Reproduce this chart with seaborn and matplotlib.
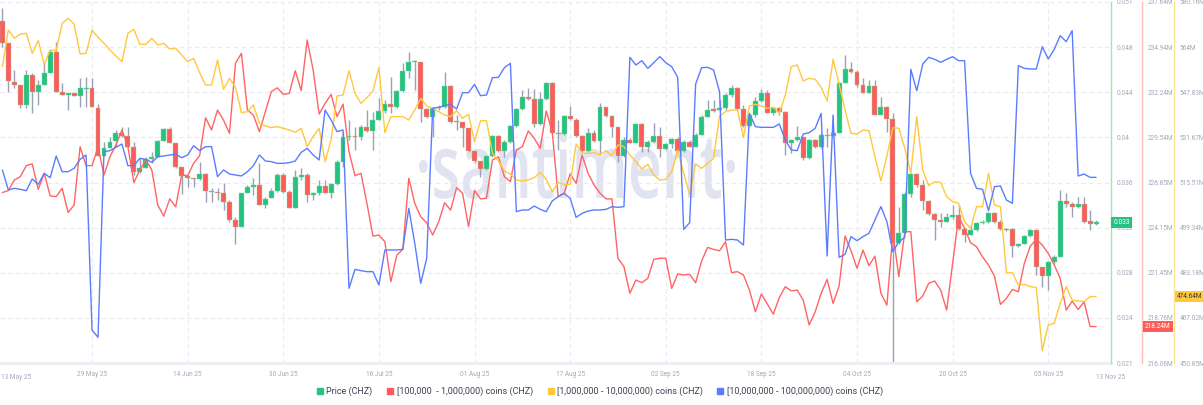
import numpy as np
import pandas as pd
import matplotlib
matplotlib.use("Agg")
import matplotlib.pyplot as plt
import matplotlib.dates as mdates
import matplotlib.transforms as mtransforms
from matplotlib.ticker import NullFormatter
from matplotlib.lines import Line2D
from matplotlib.textpath import TextPath
from matplotlib.patches import PathPatch
from matplotlib.font_manager import FontProperties
import seaborn as sns

sns.set_theme(style="white")
plt.rcParams['font.family'] = ['Roboto', 'DejaVu Sans']

dates = pd.date_range("2025-05-14", "2025-11-13", freq="D")

price_open = [
    0.04980, 0.04786, 0.04458, 0.04429, 0.04258, 0.04515, 0.04372, 0.04429, 0.04535, 0.04715,
    0.04367, 0.04344, 0.04358, 0.04338, 0.04398, 0.04401, 0.04235, 0.03825, 0.03893, 0.03953,
    0.04022, 0.03993, 0.03902, 0.03683, 0.03717, 0.03797, 0.03816, 0.03948, 0.04050, 0.03930,
    0.03731, 0.03651, 0.03631, 0.03623, 0.03668, 0.03526, 0.03517, 0.03509, 0.03431, 0.03274,
    0.03217, 0.03509, 0.03560, 0.03574, 0.03402, 0.03460, 0.03526, 0.03660, 0.03517, 0.03382,
    0.03645, 0.03660, 0.03488, 0.03503, 0.03566, 0.03509, 0.03580, 0.03774, 0.03987, 0.03993,
    0.03982, 0.04073, 0.04039, 0.04130, 0.04210, 0.04264, 0.04244, 0.04378, 0.04552, 0.04635,
    0.04624, 0.04221, 0.04153, 0.04230, 0.04244, 0.04421, 0.04110, 0.04116, 0.04059, 0.03868,
    0.03782, 0.03708, 0.03822, 0.03993, 0.03868, 0.03939, 0.04079, 0.04221, 0.04329, 0.04307,
    0.04096, 0.04310, 0.04443, 0.04022, 0.04007, 0.04167, 0.04130, 0.03993, 0.03868, 0.04022,
    0.03950, 0.04244, 0.04167, 0.04073, 0.03825, 0.03959, 0.03936, 0.04093, 0.03902, 0.03945,
    0.03993, 0.03879, 0.03925, 0.03965, 0.03868, 0.03945, 0.03902, 0.04001, 0.04158, 0.04227,
    0.04215, 0.04233, 0.04344, 0.04406, 0.04224, 0.04079, 0.04173, 0.04292, 0.04364, 0.04187,
    0.04235, 0.04201, 0.03930, 0.03959, 0.03982, 0.03802, 0.03959, 0.03896, 0.03999, 0.03996,
    0.04022, 0.04449, 0.04563, 0.04543, 0.04429, 0.04364, 0.04421, 0.04173, 0.04244, 0.04139,
    0.03080, 0.03160, 0.03494, 0.03665, 0.03574, 0.03439, 0.03325, 0.03274, 0.03260, 0.03297,
    0.03317, 0.03194, 0.03151, 0.03189, 0.03251, 0.03260, 0.03337, 0.03260, 0.03189, 0.03194,
    0.03054, 0.03074, 0.03140, 0.03189, 0.02869, 0.02798, 0.02918, 0.02960, 0.03439, 0.03416,
    0.03388, 0.03416, 0.03265, 0.03240,
]
price_high = [
    0.05086, 0.04786, 0.04557, 0.04429, 0.04557, 0.04529, 0.04472, 0.04615, 0.04729, 0.04801,
    0.04449, 0.04358, 0.04358, 0.04486, 0.04495, 0.04486, 0.04267, 0.03945, 0.03987, 0.04044,
    0.04073, 0.04073, 0.03945, 0.03802, 0.03816, 0.03859, 0.03959, 0.04059, 0.04073, 0.03930,
    0.03731, 0.03660, 0.03631, 0.03774, 0.03674, 0.03546, 0.03546, 0.03588, 0.03445, 0.03302,
    0.03509, 0.03574, 0.03631, 0.03759, 0.03474, 0.03546, 0.03674, 0.03674, 0.03531, 0.03702,
    0.03717, 0.03674, 0.03517, 0.03617, 0.03617, 0.03594, 0.03788, 0.04030, 0.04130, 0.04073,
    0.04087, 0.04215, 0.04201, 0.04315, 0.04301, 0.04500, 0.04386, 0.04615, 0.04715, 0.04644,
    0.04624, 0.04230, 0.04244, 0.04258, 0.04543, 0.04429, 0.04173, 0.04116, 0.04059, 0.03868,
    0.03782, 0.03830, 0.04001, 0.04001, 0.03959, 0.04087, 0.04230, 0.04386, 0.04401, 0.04392,
    0.04372, 0.04458, 0.04458, 0.04130, 0.04173, 0.04250, 0.04144, 0.04001, 0.04059, 0.04044,
    0.04272, 0.04244, 0.04173, 0.04073, 0.03987, 0.03973, 0.04101, 0.04101, 0.03959, 0.04101,
    0.04073, 0.03930, 0.03973, 0.03987, 0.03959, 0.03959, 0.04016, 0.04173, 0.04301, 0.04301,
    0.04301, 0.04358, 0.04429, 0.04409, 0.04258, 0.04187, 0.04329, 0.04392, 0.04386, 0.04244,
    0.04244, 0.04207, 0.03965, 0.04079, 0.03987, 0.03965, 0.03965, 0.04016, 0.04059, 0.04030,
    0.04458, 0.04686, 0.04629, 0.04557, 0.04486, 0.04472, 0.04472, 0.04329, 0.04250, 0.04187,
    0.03388, 0.03517, 0.03674, 0.03674, 0.03617, 0.03445, 0.03331, 0.03331, 0.03331, 0.03402,
    0.03402, 0.03203, 0.03245, 0.03260, 0.03274, 0.03345, 0.03345, 0.03274, 0.03203, 0.03203,
    0.03080, 0.03146, 0.03194, 0.03194, 0.02875, 0.02923, 0.02975, 0.03531, 0.03503, 0.03431,
    0.03474, 0.03474, 0.03365, 0.03274,
]
price_low = [
    0.04758, 0.04372, 0.04401, 0.04230, 0.04230, 0.04187, 0.04258, 0.04429, 0.04529, 0.04372,
    0.04344, 0.04215, 0.04338, 0.04238, 0.04244, 0.04238, 0.03825, 0.03825, 0.03888, 0.03902,
    0.03987, 0.03902, 0.03660, 0.03674, 0.03717, 0.03759, 0.03816, 0.03948, 0.03930, 0.03717,
    0.03494, 0.03560, 0.03560, 0.03617, 0.03431, 0.03431, 0.03445, 0.03360, 0.03260, 0.03074,
    0.03217, 0.03509, 0.03488, 0.03402, 0.03374, 0.03460, 0.03517, 0.03503, 0.03374, 0.03374,
    0.03617, 0.03431, 0.03445, 0.03488, 0.03503, 0.03460, 0.03574, 0.03731, 0.03959, 0.03873,
    0.03959, 0.04030, 0.03873, 0.04130, 0.04187, 0.04187, 0.04230, 0.04372, 0.04486, 0.04386,
    0.04116, 0.04144, 0.03987, 0.04215, 0.04230, 0.04101, 0.04044, 0.03902, 0.03859, 0.03759,
    0.03645, 0.03702, 0.03816, 0.03859, 0.03816, 0.03930, 0.04073, 0.04215, 0.04301, 0.04067,
    0.04087, 0.04301, 0.04016, 0.03873, 0.04001, 0.04130, 0.03987, 0.03859, 0.03859, 0.03945,
    0.03845, 0.04158, 0.03987, 0.03774, 0.03816, 0.03930, 0.03930, 0.03859, 0.03859, 0.03930,
    0.03816, 0.03873, 0.03888, 0.03859, 0.03859, 0.03902, 0.03902, 0.04001, 0.04158, 0.04201,
    0.04201, 0.04215, 0.04329, 0.04215, 0.04073, 0.04073, 0.04158, 0.04287, 0.04187, 0.04173,
    0.04173, 0.03830, 0.03845, 0.03953, 0.03788, 0.03794, 0.03888, 0.03888, 0.03902, 0.03993,
    0.04016, 0.04443, 0.04529, 0.04415, 0.04358, 0.04358, 0.04173, 0.04173, 0.04030, 0.01500,
    0.03074, 0.03160, 0.03474, 0.03560, 0.03365, 0.03317, 0.03103, 0.03217, 0.03260, 0.03288,
    0.03189, 0.03089, 0.03146, 0.03183, 0.03245, 0.03251, 0.03251, 0.03189, 0.03183, 0.02960,
    0.03046, 0.03069, 0.03131, 0.02804, 0.02704, 0.02675, 0.02903, 0.02960, 0.03388, 0.03302,
    0.03382, 0.03251, 0.03189, 0.03231,
]
price_close = [
    0.04792, 0.04463, 0.04429, 0.04258, 0.04515, 0.04372, 0.04429, 0.04535, 0.04715, 0.04372,
    0.04344, 0.04358, 0.04338, 0.04401, 0.04404, 0.04238, 0.03825, 0.03893, 0.03945, 0.04022,
    0.03993, 0.03902, 0.03683, 0.03717, 0.03797, 0.03811, 0.03948, 0.04050, 0.03930, 0.03731,
    0.03651, 0.03631, 0.03623, 0.03668, 0.03526, 0.03512, 0.03509, 0.03431, 0.03274, 0.03217,
    0.03509, 0.03560, 0.03574, 0.03402, 0.03454, 0.03526, 0.03660, 0.03517, 0.03382, 0.03645,
    0.03660, 0.03488, 0.03509, 0.03566, 0.03509, 0.03580, 0.03774, 0.03987, 0.03990, 0.03982,
    0.04073, 0.04039, 0.04130, 0.04210, 0.04264, 0.04244, 0.04378, 0.04552, 0.04630, 0.04624,
    0.04221, 0.04153, 0.04230, 0.04244, 0.04421, 0.04116, 0.04124, 0.04059, 0.03868, 0.03782,
    0.03708, 0.03822, 0.03993, 0.03868, 0.03939, 0.04079, 0.04221, 0.04329, 0.04307, 0.04096,
    0.04310, 0.04443, 0.04022, 0.04007, 0.04167, 0.04136, 0.03993, 0.03868, 0.04022, 0.03950,
    0.04244, 0.04167, 0.04073, 0.03825, 0.03959, 0.03936, 0.04093, 0.03902, 0.03945, 0.03993,
    0.03879, 0.03925, 0.03965, 0.03868, 0.03945, 0.03902, 0.04001, 0.04158, 0.04215, 0.04210,
    0.04233, 0.04344, 0.04406, 0.04224, 0.04079, 0.04173, 0.04292, 0.04364, 0.04187, 0.04233,
    0.04201, 0.03930, 0.03959, 0.03982, 0.03802, 0.03959, 0.03896, 0.03999, 0.03996, 0.04022,
    0.04449, 0.04563, 0.04543, 0.04429, 0.04364, 0.04421, 0.04173, 0.04244, 0.04139, 0.03080,
    0.03160, 0.03494, 0.03665, 0.03574, 0.03439, 0.03325, 0.03274, 0.03260, 0.03297, 0.03317,
    0.03194, 0.03151, 0.03189, 0.03251, 0.03260, 0.03337, 0.03260, 0.03194, 0.03194, 0.03054,
    0.03074, 0.03140, 0.03189, 0.02869, 0.02798, 0.02918, 0.02960, 0.03439, 0.03416, 0.03388,
    0.03416, 0.03260, 0.03240, 0.03254,
]
# [100,000 - 1,000,000) coins, millions
holders_100k_1m = [
    226.25, 226.37, 227.00, 227.20, 227.86, 227.96, 226.44, 227.40, 226.05, 226.01,
    226.50, 225.06, 225.50, 228.99, 227.86, 227.86, 228.99, 227.30, 228.39, 229.09,
    229.99, 228.99, 226.84, 227.60, 228.20, 227.60, 225.50, 224.84, 225.87, 225.40,
    227.30, 227.26, 228.00, 228.45, 230.72, 229.99, 231.18, 230.58, 229.79, 233.98,
    234.57, 231.18, 230.88, 229.89, 231.08, 232.28, 232.51, 232.12, 232.18, 233.53,
    232.34, 235.37, 233.57, 230.94, 231.58, 232.12, 230.78, 231.54, 228.69, 227.26,
    227.40, 225.60, 223.65, 223.71, 223.31, 220.92, 222.51, 222.85, 227.10, 225.60,
    224.80, 224.44, 223.71, 224.50, 225.64, 225.20, 226.54, 226.21, 224.21, 226.37,
    225.87, 225.91, 228.20, 228.39, 227.20, 226.90, 228.79, 228.99, 229.93, 229.49,
    228.89, 231.12, 229.89, 226.01, 226.21, 227.36, 226.80, 228.49, 227.40, 226.70,
    226.21, 225.87, 225.87, 222.32, 221.82, 220.23, 221.02, 220.86, 221.12, 222.26,
    222.32, 222.32, 220.52, 221.38, 221.32, 221.36, 220.86, 222.16, 222.97, 222.85,
    222.77, 223.31, 221.46, 221.52, 221.32, 220.42, 219.12, 220.19, 219.58, 218.98,
    219.97, 220.62, 220.37, 220.42, 219.82, 218.33, 219.12, 220.23, 221.06, 219.62,
    220.66, 223.65, 222.77, 221.72, 222.81, 221.88, 222.45, 220.23, 219.52, 223.81,
    221.22, 223.91, 223.91, 219.72, 220.07, 220.82, 220.96, 220.42, 219.22, 222.02,
    224.80, 224.11, 223.25, 223.01, 222.41, 221.92, 221.26, 219.56, 219.92, 220.46,
    220.32, 222.02, 223.05, 223.45, 223.11, 222.61, 221.92, 221.12, 219.22, 219.76,
    219.26, 219.72, 218.24, 218.24,
]
# [1,000,000 - 10,000,000) coins, millions
holders_1m_10m = [
    557.00, 570.13, 567.15, 568.70, 568.94, 561.78, 566.31, 557.84, 562.97, 562.73,
    572.52, 574.31, 572.28, 561.54, 561.78, 570.13, 567.51, 565.36, 562.97, 560.82,
    558.79, 568.94, 570.37, 565.00, 565.00, 567.15, 564.76, 565.36, 563.33, 563.57,
    561.18, 558.79, 559.99, 554.85, 550.43, 550.43, 559.39, 548.88, 552.82, 549.60,
    540.52, 540.88, 543.27, 536.70, 535.75, 535.15, 535.51, 534.91, 534.31, 533.48,
    534.91, 528.34, 531.93, 534.91, 522.97, 530.73, 546.49, 546.85, 555.57, 547.44,
    543.87, 545.90, 548.29, 556.64, 533.36, 539.09, 539.09, 539.09, 537.90, 541.48,
    545.66, 542.91, 542.07, 540.88, 539.69, 539.09, 541.24, 538.49, 539.93, 530.13,
    537.66, 537.66, 525.96, 523.21, 519.63, 518.55, 516.40, 516.05, 516.40, 517.24,
    519.15, 516.64, 512.22, 515.45, 514.85, 514.85, 529.30, 525.96, 525.96, 526.20,
    525.36, 526.91, 525.12, 528.94, 528.34, 525.36, 522.97, 520.34, 522.02, 518.19,
    516.40, 516.64, 519.39, 527.15, 518.79, 511.03, 522.14, 520.58, 522.37, 524.16,
    539.33, 540.88, 541.48, 541.48, 531.69, 542.91, 543.51, 542.91, 542.07, 542.43,
    540.28, 546.85, 557.00, 557.60, 551.87, 552.82, 552.46, 549.60, 544.70, 559.63,
    550.79, 541.48, 533.12, 532.88, 534.31, 534.07, 524.76, 516.05, 525.00, 535.15,
    534.91, 527.75, 518.79, 539.09, 519.99, 514.37, 515.81, 515.57, 510.43, 508.64,
    508.05, 501.48, 499.09, 506.85, 506.85, 518.79, 507.45, 506.85, 483.21, 483.21,
    478.79, 479.03, 478.19, 477.95, 455.27, 464.46, 465.06, 472.23, 478.19, 473.42,
    473.06, 472.82, 474.64, 474.64,
]
# [10,000,000 - 100,000,000) coins, millions (axis hidden in the source)
holders_10m_100m = [
    2045, 2015, 2017.5, 2016, 2014, 2031.5, 2023.5, 2040, 2033.5, 2066,
    2042.5, 2042.5, 2047.5, 2061, 2067.5, 1805, 1794, 2072.5, 2074, 2079,
    2084, 2051.5, 2051.5, 2062.5, 2061, 2056.5, 2065, 2066, 2067.5, 2068.5,
    2063.5, 2067.5, 2081.5, 2074, 2080, 2080, 2035, 2045, 2039, 2037.5,
    2036, 2042.5, 2051.5, 2067.5, 2058.5, 2057.5, 2055, 2055, 2056, 2058.5,
    2071.5, 2077.5, 2067.5, 2060, 2135, 2120, 2102.5, 2105, 1867.5, 1896,
    1894, 1892.5, 1892.5, 1872.5, 1925, 1925, 1925, 1926, 1987.5, 1935,
    1875, 1912.5, 2137.5, 2139, 2141.5, 2143.5, 2136.5, 2161, 2161, 2173.5,
    2156.5, 2157.5, 2183.5, 2184, 2198.5, 2205, 1982.5, 1985, 1985, 1991,
    1986, 1982.5, 1998.5, 2005, 2010, 2002.5, 1974, 1980, 1983.5, 1985,
    1985, 1986, 1990, 1989, 1990, 2214, 2202.5, 2209, 2197.5, 2206,
    2215, 2206, 2200, 2184, 1956, 1966, 2174, 2198.5, 2199, 2195,
    2162.5, 1940, 1941, 1940, 1932.5, 2130, 2110, 2109, 2109, 2109,
    2114, 2090, 2075, 2074, 2099, 2101, 2107.5, 2130, 1916, 2127.5,
    1914, 1918.5, 1945, 1939, 1945, 1950, 1970, 1990, 1967.5, 1922.5,
    1937.5, 1944, 2196, 2164, 2204, 2214, 2211, 2206.5, 2211, 2215,
    2209, 2209, 2040, 2017.5, 2016, 1984, 2020, 2021, 2000, 1995,
    2201.5, 2197.5, 2196.5, 2196.5, 2230, 2211.5, 2226, 2246.5, 2237.5, 2254,
    2036, 2039, 2034, 2034,
]

price_tick_labels = ["0.051", "0.048", "0.044", "0.04", "0.036", "0.032", "0.028", "0.024", "0.021"]
red_tick_labels = ["237.64M", "234.94M", "232.24M", "229.54M", "226.85M", "224.15M", "221.45M", "218.76M", "216.06M"]
yellow_tick_labels = ["580.16M", "564M", "547.83M", "531.67M", "515.51M", "499.34M", "483.18M", "467.02M", "450.85M"]
date_tick_labels = ["13 May 25", "29 May 25", "14 Jun 25", "30 Jun 25", "16 Jul 25", "01 Aug 25",
                    "17 Aug 25", "02 Sep 25", "18 Sep 25", "04 Oct 25", "20 Oct 25", "05 Nov 25", "13 Nov 25"]

series_names = ["Price (CHZ)", "[100,000  - 1,000,000) coins (CHZ)",
                "[1,000,000 - 10,000,000) coins (CHZ)", "[10,000,000 - 100,000,000) coins (CHZ)"]
watermark = "·santiment·"

GREEN = "#26c281"
RED_C = "#ff5b5b"
RED_L = "#ff6464"
YEL = "#ffc83d"
BLUE = "#5b7cff"
TICKC = "#a3a9ba"
FS = 4.7

df = pd.DataFrame({"date": dates, "open": price_open, "high": price_high, "low": price_low,
                   "close": price_close, "r": holders_100k_1m, "y": holders_1m_10m, "b": holders_10m_100m})
df["x"] = mdates.date2num(df["date"])

W, H = 1203, 405
fig = plt.figure(figsize=(W / 100, H / 100), dpi=100)
ax = fig.add_axes([0, 42 / H, 1111 / W, 361 / H])
x0 = df["x"].iloc[0]
xlim = (x0 - 0.40, x0 + 185.5)
plim = (0.02052, 0.0514)

# watermark (condensed text drawn as a path, in figure pixels)
tp = TextPath((0, 0), watermark, size=100, prop=FontProperties(family="Open Sans", weight="semibold"))
ext = tp.get_extents()
tx0, tx1 = 419, 735
base_y, xh = 198, 48
sx = (tx1 - tx0) / ext.width
sy = xh / 53.5
wm_tr = (mtransforms.Affine2D().translate(-ext.x0, 0).scale(sx, sy)
         .translate(tx0, H - base_y))
wm = PathPatch(tp, transform=wm_tr, facecolor="#e1e4f0", edgecolor="none", zorder=0.5, clip_on=False)
ax.add_artist(wm)

# candles
up = df["close"] >= df["open"]
colors = np.where(up, GREEN, RED_C)
ax.vlines(df["x"], df["low"], df["high"], color="#9aa1b6", linewidth=1.0, zorder=2)
body_lo = np.minimum(df["open"], df["close"])
body_h = np.maximum(np.abs(df["close"] - df["open"]), 0.00007)
ax.bar(df["x"], body_h, bottom=body_lo, width=0.82, color=colors, edgecolor="#8fd4a0",
       linewidth=0.3, zorder=3)

ax.set_ylim(plim)
ax.set_xlim(xlim)
pt = np.linspace(plim[1], plim[0], 9)
ax.set_yticks(pt)
ax.yaxis.set_major_formatter(NullFormatter())
ax.tick_params(axis="y", length=0, left=False, right=False, labelleft=False, labelright=False)

xt = [x0 + 15 + 16 * j for j in range(11)]
ax.set_xticks(xt)
ax.set_xticklabels(date_tick_labels[1:12])
ax.tick_params(axis="x", length=0, pad=6, labelsize=FS, labelcolor=TICKC)
ax.grid(True, color="#e9ebf2", linestyle=(0, (4, 3)), linewidth=0.8)
ax.set_axisbelow(True)
for s in ["left", "top", "right"]:
    ax.spines[s].set_visible(False)
ax.spines["bottom"].set_color("#eceef3")
ax.spines["bottom"].set_linewidth(2)
ax.set_xlabel("")
ax.set_ylabel("")

tb = ax.transAxes
ax.text(0.001, -0.031, date_tick_labels[0], transform=tb, ha="left", va="top", fontsize=FS, color=TICKC)
ax.text((x0 + 183 - xlim[0]) / (xlim[1] - xlim[0]), -0.031, date_tick_labels[12], transform=tb,
        ha="left", va="top", fontsize=FS, color=TICKC)


def make_twin(pos, color, lim, labels):
    t = ax.twinx()
    t.set_ylim(lim)
    for s in ["left", "top", "bottom"]:
        t.spines[s].set_visible(False)
    if pos is None:
        t.spines["right"].set_visible(False)
        t.set_yticks([])
    else:
        t.spines["right"].set_position(("axes", pos))
        t.spines["right"].set_color(color)
        t.spines["right"].set_linewidth(1)
        t.set_yticks(np.linspace(lim[1], lim[0], 9))
        t.set_yticklabels(labels)
        t.tick_params(axis="y", length=0, pad=4, labelsize=FS, labelcolor=TICKC)
    t.tick_params(axis="y", labelleft=False, left=False)
    t.grid(False)
    return t


axp = make_twin(1.0, "#a6e3b0", plim, price_tick_labels)
axr = make_twin(1142 / 1111, "#ffbcbc", (216.06, 237.64), red_tick_labels)
axy = make_twin(1174 / 1111, "#ffe28f", (450.85, 580.16), yellow_tick_labels)
axb = make_twin(None, None, (1755.5, 2297), None)

sns.lineplot(data=df, x="x", y="r", ax=axr, color=RED_L, linewidth=1.0, legend=False)
sns.lineplot(data=df, x="x", y="y", ax=axy, color=YEL, linewidth=1.0, legend=False)
sns.lineplot(data=df, x="x", y="b", ax=axb, color=BLUE, linewidth=1.0, legend=False)
for t, lim in [(axr, (216.06, 237.64)), (axy, (450.85, 580.16)), (axb, (1755.5, 2297))]:
    t.set_ylim(lim)
    t.set_xlabel("")
    t.set_ylabel("")
ax.set_xlim(xlim)

# last-value badges
last = df.iloc[-1]
bt = mtransforms.blended_transform_factory(axp.transAxes, axp.transData)
axp.text(1.002, last["close"], f"{last['close']:.3f}", transform=bt, ha="left", va="center",
         fontsize=FS, color="white", zorder=10,
         bbox=dict(boxstyle="square,pad=0.3", fc=GREEN, ec="none"))
br = mtransforms.blended_transform_factory(axr.transAxes, axr.transData)
axr.text(1145 / 1111, last["r"], f"{last['r']:.2f}M", transform=br, ha="left", va="center",
         fontsize=FS, color="white", zorder=10,
         bbox=dict(boxstyle="square,pad=0.3", fc=RED_C, ec="none"))
by = mtransforms.blended_transform_factory(axy.transAxes, axy.transData)
axy.text(1177 / 1111, last["y"], f"{last['y']:.2f}M", transform=by, ha="left", va="center",
         fontsize=FS, color="#3b3b3b", zorder=10,
         bbox=dict(boxstyle="square,pad=0.3", fc=YEL, ec="none"))

handles = [Line2D([], [], marker="s", linestyle="none", markersize=4.5, markerfacecolor=c, markeredgecolor=c)
           for c in [GREEN, RED_C, YEL, BLUE]]
fig.legend(handles, series_names, loc="center", bbox_to_anchor=(600 / W, 1 - 391 / H), ncol=4,
           frameon=False, fontsize=6.5, handlelength=0.7, handletextpad=0.35, columnspacing=1.6,
           labelcolor="#3d4250")

fig.savefig("out.png", dpi=100)
